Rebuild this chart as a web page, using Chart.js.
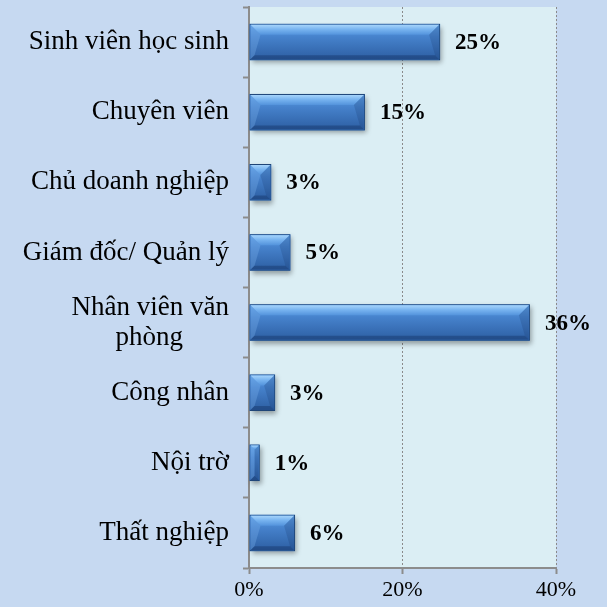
<!DOCTYPE html>
<html>
<head>
<meta charset="utf-8">
<script src="https://cdn.jsdelivr.net/npm/chart.js@4.4.1/dist/chart.umd.min.js"></script>
<style>
    html, body { margin: 0; padding: 0; background: #c6d9f1; }
    #wrap { width: 607px; height: 607px; }
</style>
</head>
<body>
<div id="wrap"><canvas id="jobChart"></canvas></div>
<script>
const categories = [
    'Sinh viên học sinh',
    'Chuyên viên',
    'Chủ doanh nghiệp',
    'Giám đốc/ Quản lý',
    ['Nhân viên văn', 'phòng\u2003\u2002\u2009'],
    'Công nhân',
    'Nội trờ',
    'Thất nghiệp'
];
const shares = [24.9, 15.1, 2.9, 5.4, 36.6, 3.4, 1.4, 6.0];
const valueLabels = ['25%', '15%', '3%', '5%', '36%', '3%', '1%', '6%'];
const xTicks = [0, 20, 40];

const plotBg = '#dbeef4';
const axisGray = '#8c8c8c';

// light aqua fill behind the plot only
const plotArea = {
    id: 'plotArea',
    beforeDraw(chart) {
        const {ctx, chartArea: a} = chart;
        ctx.save();
        ctx.fillStyle = plotBg;
        ctx.fillRect(a.left, a.top, a.right - a.left, a.bottom - a.top);
        ctx.restore();
    }
};

function barBox(el) {
    const p = el.getProps(['x', 'y', 'base', 'height'], true);
    return {l: p.base, r: p.x, t: p.y - p.height / 2, b: p.y + p.height / 2};
}

// soft shadow under the bars, then a bevel on top (office 3d look)
const bevel = {
    id: 'bevel',
    beforeDatasetsDraw(chart) {
        const ctx = chart.ctx;
        ctx.save();
        ctx.shadowColor = 'rgba(0,0,0,0.35)';
        ctx.shadowBlur = 5;
        ctx.shadowOffsetX = 2;
        ctx.shadowOffsetY = 3;
        ctx.fillStyle = '#3d78c4';
        chart.getDatasetMeta(0).data.forEach(el => {
            const k = barBox(el);
            ctx.fillRect(k.l, k.t, k.r - k.l, k.b - k.t);
        });
        ctx.restore();
    },
    afterDatasetsDraw(chart) {
        const ctx = chart.ctx;
        ctx.save();
        chart.getDatasetMeta(0).data.forEach(el => {
            const k = barBox(el);
            const l = k.l + 1, r = k.r - 1, t = k.t + 1, b = k.b - 1;
            const w = r - l;
            const bv = Math.min(10, w / 2);
            const bb = Math.min(4, w / 2);

            let g = ctx.createLinearGradient(0, t, 0, b);
            g.addColorStop(0, '#5fa0e6');
            g.addColorStop(0.35, '#4682cc');
            g.addColorStop(1, '#2d5fa3');
            ctx.fillStyle = g;
            ctx.fillRect(l, t, w, b - t);

            // top bevel
            g = ctx.createLinearGradient(0, t, 0, t + bv);
            g.addColorStop(0, '#a6d4fb');
            g.addColorStop(0.45, '#78b4f0');
            g.addColorStop(1, '#5393dc');
            ctx.fillStyle = g;
            ctx.beginPath();
            ctx.moveTo(l, t);
            ctx.lineTo(r, t);
            ctx.lineTo(r - bv, t + bv);
            ctx.lineTo(l + bv, t + bv);
            ctx.closePath();
            ctx.fill();

            // left bevel
            ctx.fillStyle = 'rgba(120,175,235,0.35)';
            ctx.beginPath();
            ctx.moveTo(l, t);
            ctx.lineTo(l + bv, t + bv);
            ctx.lineTo(l + bb, b - bb);
            ctx.lineTo(l, b);
            ctx.closePath();
            ctx.fill();

            // right bevel
            ctx.fillStyle = 'rgba(20,50,100,0.2)';
            ctx.beginPath();
            ctx.moveTo(r, t);
            ctx.lineTo(r - bv, t + bv);
            ctx.lineTo(r - bb, b - bb);
            ctx.lineTo(r, b);
            ctx.closePath();
            ctx.fill();

            // bottom bevel
            ctx.fillStyle = 'rgba(15,40,85,0.35)';
            ctx.beginPath();
            ctx.moveTo(l, b);
            ctx.lineTo(r, b);
            ctx.lineTo(r - bb, b - bb);
            ctx.lineTo(l + bb, b - bb);
            ctx.closePath();
            ctx.fill();
        });
        ctx.restore();
    }
};

// percentage text right of each bar
const barValues = {
    id: 'barValues',
    afterDatasetsDraw(chart) {
        const ctx = chart.ctx;
        ctx.save();
        ctx.font = 'bold 23px "Liberation Serif", "Times New Roman", serif';
        ctx.fillStyle = '#000';
        ctx.textAlign = 'left';
        ctx.textBaseline = 'middle';
        chart.getDatasetMeta(0).data.forEach((el, i) => {
            const k = barBox(el);
            ctx.fillText(valueLabels[i], k.r + 15, (k.t + k.b) / 2 + 1);
        });
        ctx.restore();
    }
};

const ctx = document.getElementById('jobChart').getContext('2d');
const jobChart = new Chart(ctx, {
    type: 'bar',
    data: {
        labels: categories,
        datasets: [{
            data: shares,
            backgroundColor: '#3d78c4',
            borderColor: '#1f4577',
            borderWidth: 1,
            borderSkipped: false,
            categoryPercentage: 1,
            barPercentage: 0.52
        }]
    },
    options: {
        indexAxis: 'y',
        responsive: true,
        maintainAspectRatio: false,
        animation: false,
        devicePixelRatio: 1,
        layout: {
            padding: {top: 7, right: 51, bottom: 0, left: 0}
        },
        plugins: {
            legend: {display: false},
            tooltip: {enabled: false}
        },
        scales: {
            x: {
                min: 0,
                max: 40,
                afterBuildTicks: scale => {
                    scale.ticks = xTicks.map(v => ({value: v}));
                },
                afterFit: scale => {
                    scale.height = 39;
                    scale.paddingLeft = 0;
                    scale.paddingRight = 0;
                },
                ticks: {
                    callback: v => v + '%',
                    color: '#000',
                    padding: 3,
                    font: {family: '"Liberation Serif", "Times New Roman", serif', size: 22}
                },
                grid: {
                    color: ctx => ctx.tick && ctx.tick.value === 0 ? 'rgba(0,0,0,0)' : '#8a8a8a',
                    lineWidth: 1,
                    tickLength: 6,
                    tickColor: axisGray,
                    tickBorderDash: [],
                    tickWidth: 2
                },
                border: {display: true, color: axisGray, width: 2, dash: [2, 2]}
            },
            y: {
                afterFit: scale => {
                    scale.width = 249;
                    scale.paddingTop = 0;
                    scale.paddingBottom = 0;
                },
                ticks: {
                    color: '#000',
                    padding: 14,
                    font: {family: '"Liberation Serif", "Times New Roman", serif', size: 27, lineHeight: 1.1}
                },
                grid: {
                    offset: true,
                    drawOnChartArea: false,
                    tickLength: 6,
                    tickColor: axisGray,
                    tickWidth: 2
                },
                border: {display: true, color: axisGray, width: 2}
            }
        }
    },
    plugins: [plotArea, bevel, barValues]
});
</script>
</body>
</html>
